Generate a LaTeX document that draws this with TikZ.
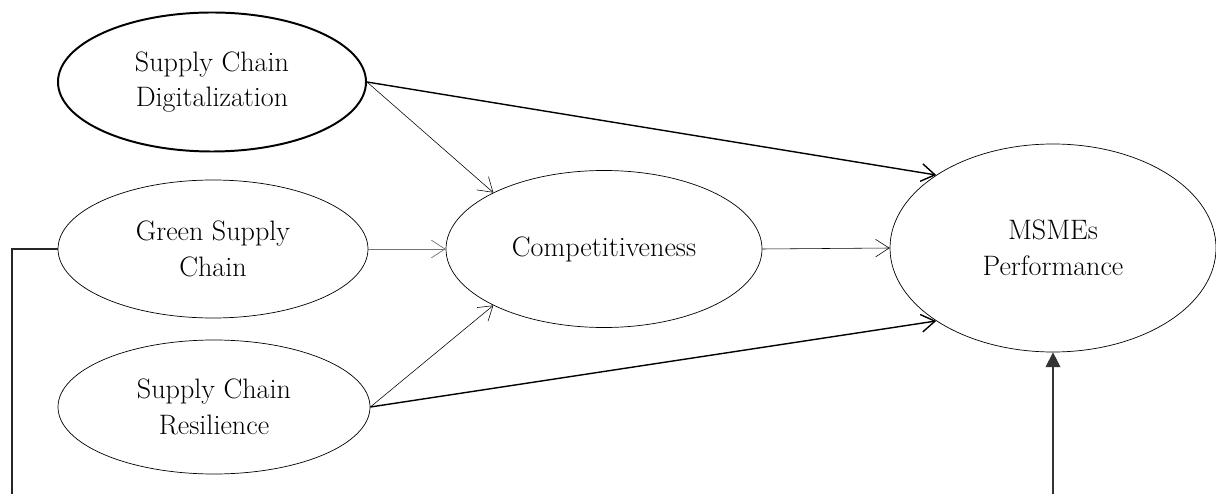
\documentclass[tikz,border=0pt]{standalone}
\usetikzlibrary{arrows.meta,shapes.geometric}
\begin{document}
\begin{tikzpicture}[>={Straight Barb[length=3.4mm,width=4.4mm]}, line width=0.5pt,
  var/.style={ellipse, draw, inner sep=0pt, align=center, font=\fontsize{20}{25.5}\selectfont}]
  \useasboundingbox (0,0) rectangle (30.4,12.35);
  % variables
  \node[var, line width=1.4pt, minimum width=7.7cm, minimum height=3.475cm] (scd) at (5.3,10.3) {Supply Chain\\Digitalization};
  \node[var, minimum width=7.75cm, minimum height=3.45cm] (gsc) at (5.325,6.125) {Green Supply\\Chain};
  \node[var, minimum width=7.8cm, minimum height=3.35cm] (scr) at (5.35,2.175) {Supply Chain\\Resilience};
  \node[var, minimum width=7.9cm, minimum height=3.925cm] (comp) at (15.1,6.125) {Competitiveness};
  \node[var, minimum width=8.15cm, minimum height=5.2cm] (msme) at (26.325,6.15) {MSMEs\\Performance};
  % efectos directos
  \draw[->, line width=1pt] (scd.east) -- (msme.148);
  \draw[->, line width=1pt] (scr.east) -- (msme.212);
  % hacia competitividad
  \draw[->, line width=0.4pt] (scd.east) -- (comp.153);
  \draw[->, line width=0.5pt, black!55] (gsc.east) -- (comp.west);
  \draw[->, line width=0.4pt] (scr.east) -- (comp.207);
  \draw[->, line width=0.4pt] (comp.east) -- (msme.west);
  % lineas inferiores
  \coordinate (gscdown) at (0.3,0);
  \coordinate (perfin) at (26.325,0);
  \draw[line width=0.8pt, black!85] (gsc.west) -| (gscdown);
  \draw[-{Triangle[length=3.7mm,width=3.7mm]}, line width=0.8pt, black!80] (perfin) -- (msme.south);
\end{tikzpicture}
\end{document}
